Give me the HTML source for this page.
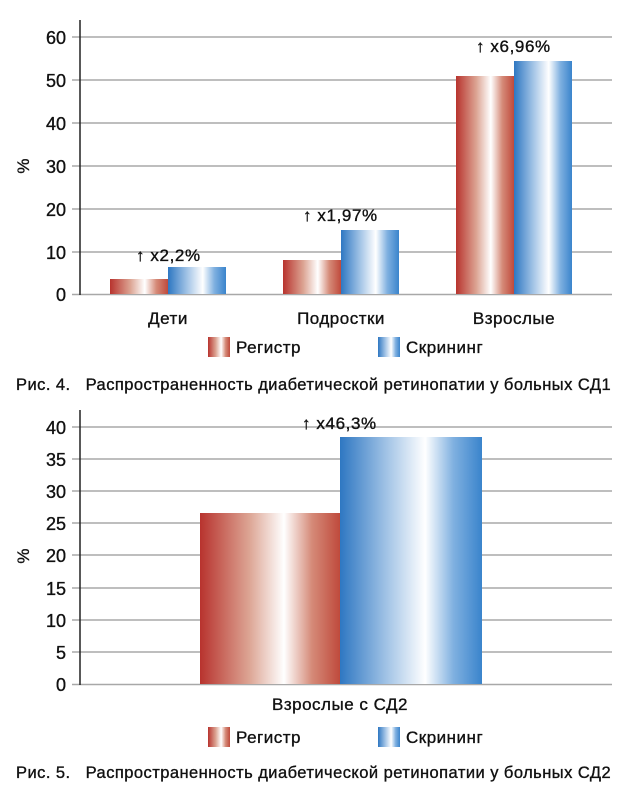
<!DOCTYPE html>
<html><head><meta charset="utf-8"><style>
body{margin:0;background:#fff}
svg{display:block;font-family:"Liberation Sans","DejaVu Sans",sans-serif}
svg text{stroke:#111;stroke-width:0.35;fill:#111}
</style></head><body>
<svg width="642" height="790" viewBox="0 0 642 790" xmlns="http://www.w3.org/2000/svg">
<defs>
<linearGradient id="r" x1="0" x2="1" y1="0" y2="0">
<stop offset="0" stop-color="#b8332e"/><stop offset="0.35" stop-color="#dca493"/><stop offset="0.6" stop-color="#ffffff"/><stop offset="0.8" stop-color="#d58a78"/><stop offset="1" stop-color="#bf4a3c"/></linearGradient>
<linearGradient id="b" x1="0" x2="1" y1="0" y2="0">
<stop offset="0" stop-color="#2e77c2"/><stop offset="0.35" stop-color="#a9c8e8"/><stop offset="0.6" stop-color="#ffffff"/><stop offset="0.8" stop-color="#7fb0e0"/><stop offset="1" stop-color="#3a84cc"/></linearGradient>
</defs>
<g stroke="#a8a8a8" stroke-width="1.5">
<line x1="72" y1="37" x2="612" y2="37"/><line x1="72" y1="80" x2="612" y2="80"/><line x1="72" y1="123" x2="612" y2="123"/><line x1="72" y1="166" x2="612" y2="166"/><line x1="72" y1="209" x2="612" y2="209"/><line x1="72" y1="252" x2="612" y2="252"/><line x1="72" y1="294.5" x2="612" y2="294.5"/>
</g>
<line x1="80" y1="20" x2="80" y2="295" stroke="#222" stroke-width="1.5"/>
<g font-size="18" text-anchor="end">
<text x="66" y="44">60</text><text x="66" y="87">50</text><text x="66" y="130">40</text><text x="66" y="173">30</text><text x="66" y="216">20</text><text x="66" y="259">10</text><text x="66" y="301">0</text>
</g>
<text x="29" y="166" font-size="17" transform="rotate(-90 29 166)" text-anchor="middle">%</text>
<rect x="110" y="279" width="58" height="15" fill="url(#r)"/><rect x="168" y="267" width="58" height="27" fill="url(#b)"/>
<rect x="283" y="260" width="58" height="34" fill="url(#r)"/><rect x="341" y="230" width="58" height="64" fill="url(#b)"/>
<rect x="456" y="76" width="58" height="218" fill="url(#r)"/><rect x="514" y="61" width="58" height="233" fill="url(#b)"/>
<g font-size="17" letter-spacing="0.6">
<text x="136" y="261">↑ x2,2%</text><text x="303" y="221">↑ x1,97%</text><text x="476" y="52">↑ x6,96%</text>
</g>
<g font-size="17" text-anchor="middle" letter-spacing="0.5">
<text x="168" y="324">Дети</text><text x="341" y="324">Подростки</text><text x="514" y="324">Взрослые</text>
</g>
<rect x="208" y="337" width="22" height="20" fill="url(#r)"/><text x="236" y="353" font-size="17" letter-spacing="0.5">Регистр</text>
<rect x="378" y="337" width="22" height="20" fill="url(#b)"/><text x="406" y="353" font-size="17" letter-spacing="0.5">Скрининг</text>
<text x="16" y="390" font-size="16.5" letter-spacing="0.45" xml:space="preserve">Рис. 4.   Распространенность диабетической ретинопатии у больных СД1</text>

<g stroke="#a8a8a8" stroke-width="1.5">
<line x1="72" y1="427" x2="612" y2="427"/><line x1="72" y1="459" x2="612" y2="459"/><line x1="72" y1="491" x2="612" y2="491"/><line x1="72" y1="523" x2="612" y2="523"/><line x1="72" y1="555" x2="612" y2="555"/><line x1="72" y1="588" x2="612" y2="588"/><line x1="72" y1="620" x2="612" y2="620"/><line x1="72" y1="652" x2="612" y2="652"/><line x1="72" y1="684.5" x2="612" y2="684.5"/>
</g>
<line x1="80" y1="410" x2="80" y2="685" stroke="#222" stroke-width="1.5"/>
<g font-size="18" text-anchor="end">
<text x="66" y="434">40</text><text x="66" y="466">35</text><text x="66" y="498">30</text><text x="66" y="530">25</text><text x="66" y="562">20</text><text x="66" y="595">15</text><text x="66" y="627">10</text><text x="66" y="659">5</text><text x="66" y="691">0</text>
</g>
<text x="29" y="556" font-size="17" transform="rotate(-90 29 556)" text-anchor="middle">%</text>
<rect x="200" y="513" width="140" height="171" fill="url(#r)"/><rect x="340" y="437" width="142" height="247" fill="url(#b)"/>
<text x="302" y="429" font-size="17" letter-spacing="0.6">↑ x46,3%</text>
<text x="340" y="710" font-size="17" text-anchor="middle" letter-spacing="0.5">Взрослые с СД2</text>
<rect x="208" y="727" width="22" height="20" fill="url(#r)"/><text x="236" y="743" font-size="17" letter-spacing="0.5">Регистр</text>
<rect x="378" y="727" width="22" height="20" fill="url(#b)"/><text x="406" y="743" font-size="17" letter-spacing="0.5">Скрининг</text>
<text x="16" y="778" font-size="16.5" letter-spacing="0.45" xml:space="preserve">Рис. 5.   Распространенность диабетической ретинопатии у больных СД2</text>
</svg>
</body></html>
